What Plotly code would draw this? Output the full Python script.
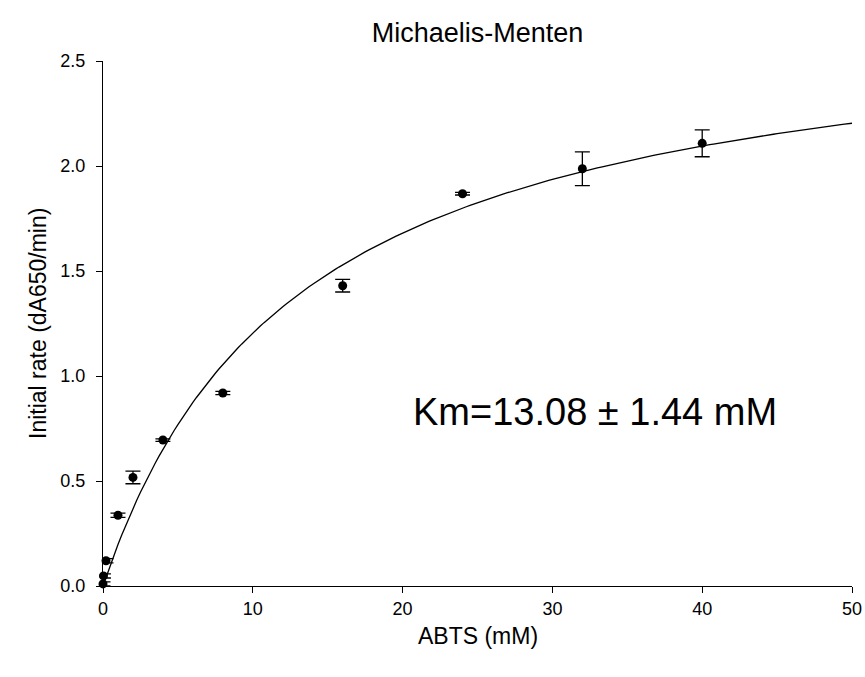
import plotly.graph_objects as go

# Data
abts_mM = [0.0, 0.03, 0.2, 1.0, 2.0, 4.0, 8.0, 16.0, 24.0, 32.0, 40.0]
rate = [0.01, 0.048, 0.12, 0.337, 0.517, 0.695, 0.919, 1.43, 1.868, 1.987, 2.108]
rate_err = [0.01, 0.01, 0.01, 0.01, 0.03, 0.006, 0.008, 0.03, 0.006, 0.08, 0.064]

# Fitted Michaelis-Menten parameters
Km = 13.08
Vmax = 2.78
fit_x = [i * 0.25 for i in range(0, 201)]
fit_y = [Vmax * s / (Km + s) for s in fit_x]

x_ticks = [0, 10, 20, 30, 40, 50]
y_ticks = [0.0, 0.5, 1.0, 1.5, 2.0, 2.5]

font = "Liberation Sans, Arial, sans-serif"

fig = go.Figure()
fig.add_trace(go.Scatter(
    x=fit_x, y=fit_y, mode="lines",
    line=dict(color="black", width=1.3),
    hoverinfo="skip", showlegend=False,
))
fig.add_trace(go.Scatter(
    x=abts_mM, y=rate, mode="markers",
    marker=dict(color="black", size=9),
    error_y=dict(type="data", array=rate_err, visible=True,
                 color="black", thickness=1.3, width=7.5),
    cliponaxis=False, showlegend=False,
))

W, H = 865, 677
fig.update_layout(
    width=W, height=H,
    paper_bgcolor="white", plot_bgcolor="white",
    margin=dict(l=103, r=13, t=61, b=91),
    font=dict(family=font, color="black", size=18),
    title=dict(text="Michaelis-Menten", x=0.5, xref="paper", xanchor="center",
               y=1 - 33 / H, yanchor="middle",
               font=dict(size=27, family=font, color="black")),
    annotations=[
        dict(text="Km=13.08 ± 1.44 mM", x=32.84, y=0.83, xref="x", yref="y",
             showarrow=False, font=dict(size=38, family=font, color="black")),
        dict(text="ABTS (mM)", x=0.5, y=-0.095, xref="paper", yref="paper",
             xanchor="center", yanchor="middle",
             showarrow=False, font=dict(size=23, family=font, color="black")),
        dict(text="Initial rate (dA650/min)", x=-0.0868, y=0.501,
             xref="paper", yref="paper", xanchor="center", yanchor="middle",
             textangle=-90,
             showarrow=False, font=dict(size=23, family=font, color="black")),
    ],
)

fig.update_xaxes(
    range=[0, 50], tickvals=x_ticks, ticks="outside", ticklen=6,
    showline=True, linecolor="black", linewidth=1, tickcolor="black",
    showgrid=False, zeroline=False, mirror=False, automargin=False,
    tickfont=dict(size=18),
)
fig.update_yaxes(
    range=[0, 2.5], tickvals=y_ticks, tickformat=".1f", ticks="outside", ticklen=6,
    showline=True, linecolor="black", linewidth=1, tickcolor="black",
    showgrid=False, zeroline=False, mirror=False, automargin=False,
    tickfont=dict(size=18), ticklabelstandoff=7,
)

fig.write_html(
    "out.html",
    config={"displayModeBar": False},
    post_script="document.body.style.margin='0';document.body.style.overflow='hidden';",
)
